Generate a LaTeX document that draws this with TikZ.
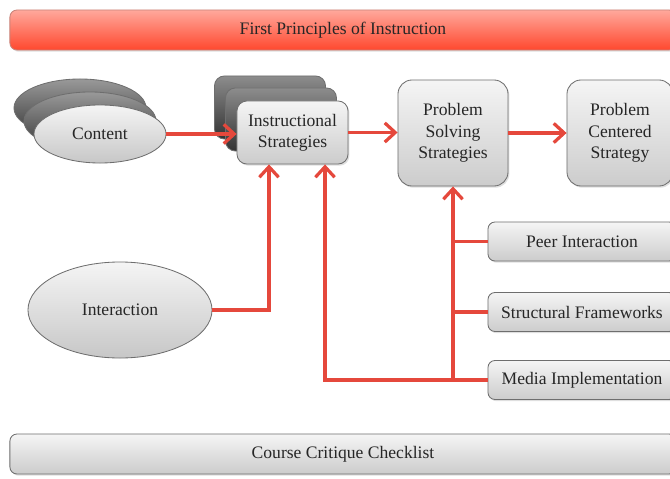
\documentclass[tikz,border=0pt]{standalone}
\usepackage{fontspec}
\setmainfont{Liberation Serif}
\usetikzlibrary{arrows.meta,shadows,shapes.geometric}

\definecolor{linkred}{HTML}{E5483C}
\definecolor{edgegray}{HTML}{6E6E6E}

\begin{document}
\begin{tikzpicture}[x=0.025cm,y=-0.025cm,
	font=\fontsize{12.5}{15.2}\selectfont,text=black!85,
	lightbox/.style={draw=edgegray,line width=0.6pt,rounded corners=7pt,top color=white!96!black,bottom color=black!20,drop shadow={opacity=0.25,shadow xshift=1pt,shadow yshift=-1.2pt},align=center},
	darkbox/.style={draw=edgegray,line width=0.6pt,rounded corners=7pt,top color=black!45,bottom color=black!80},
	lightoval/.style={draw=edgegray,line width=0.6pt,ellipse,top color=white!96!black,bottom color=black!22},
	darkoval/.style={draw=edgegray,line width=0.6pt,ellipse,top color=black!40,bottom color=black!78},
	bar/.style={lightbox,rounded corners=5pt,minimum width=16.65cm,minimum height=1cm},
	link/.style={draw=linkred,line width=2.3pt},
	tip/.style={-{Straight Barb[length=2.6mm,width=4.8mm]}}]
	
	\useasboundingbox (0,0) rectangle (670,479);
	
	\node[bar,draw={rgb,255:red,200;green,130;blue,120},top color={rgb,255:red,255;green,168;blue,156},bottom color={rgb,255:red,255;green,72;blue,46}] (banner) at (343,30) {First Principles of Instruction};
	\node[bar] (critique) at (343,454) {Course Critique Checklist};
	
	\node[darkoval,minimum width=3.3cm,minimum height=1.45cm] (content3) at (80,108) {};
	\node[darkoval,minimum width=3.3cm,minimum height=1.45cm] (content2) at (90,121) {};
	\node[lightoval,minimum width=3.3cm,minimum height=1.45cm] (content) at (100,134) {Content};
	
	\node[darkbox,minimum width=2.775cm,minimum height=1.575cm] (instr3) at (270,107.5) {};
	\node[darkbox,minimum width=2.775cm,minimum height=1.575cm] (instr2) at (281,119.5) {};
	\node[lightbox,minimum width=2.775cm,minimum height=1.575cm] (instr) at (292.5,132.5) {Instructional\\Strategies};
	
	\node[lightbox,rounded corners=10pt,minimum width=2.75cm,minimum height=2.65cm] (solving) at (453,133) {Problem\\Solving\\Strategies};
	\node[lightbox,rounded corners=10pt,minimum width=2.65cm,minimum height=2.65cm] (centered) at (620,133) {Problem\\Centered\\Strategy};
	
	\node[lightoval,minimum width=4.6cm,minimum height=2.4cm] (interaction) at (120,310) {Interaction};
	
	\node[lightbox,rounded corners=5pt,minimum width=4.7cm,minimum height=0.975cm] (peer) at (582,241.5) {Peer Interaction};
	\node[lightbox,rounded corners=5pt,minimum width=4.7cm,minimum height=0.975cm] (frame) at (582,312) {Structural Frameworks};
	\node[lightbox,rounded corners=5pt,minimum width=4.7cm,minimum height=0.975cm] (media) at (582,380) {Media Implementation};
	
	\coordinate (hub) at (media.west -| solving.south);
	
	\draw[link,tip] (content.east) -- (content.east -| instr.west);
	\draw[link,tip] (instr.east) -- (instr.east -| solving.west);
	\draw[link,tip] (solving.east) -- (solving.east -| centered.west);
	\draw[link,tip] (interaction.east) -| ([xshift=-0.5875cm]instr.south);
	\draw[link,tip] (media.west) -| ([xshift=0.8125cm]instr.south);
	\draw[link,tip] (hub) -- (solving.south);
	\draw[link] (peer.west) -- (peer.west -| hub);
	\draw[link] (frame.west) -- (frame.west -| hub);
	
\end{tikzpicture}
\end{document}
